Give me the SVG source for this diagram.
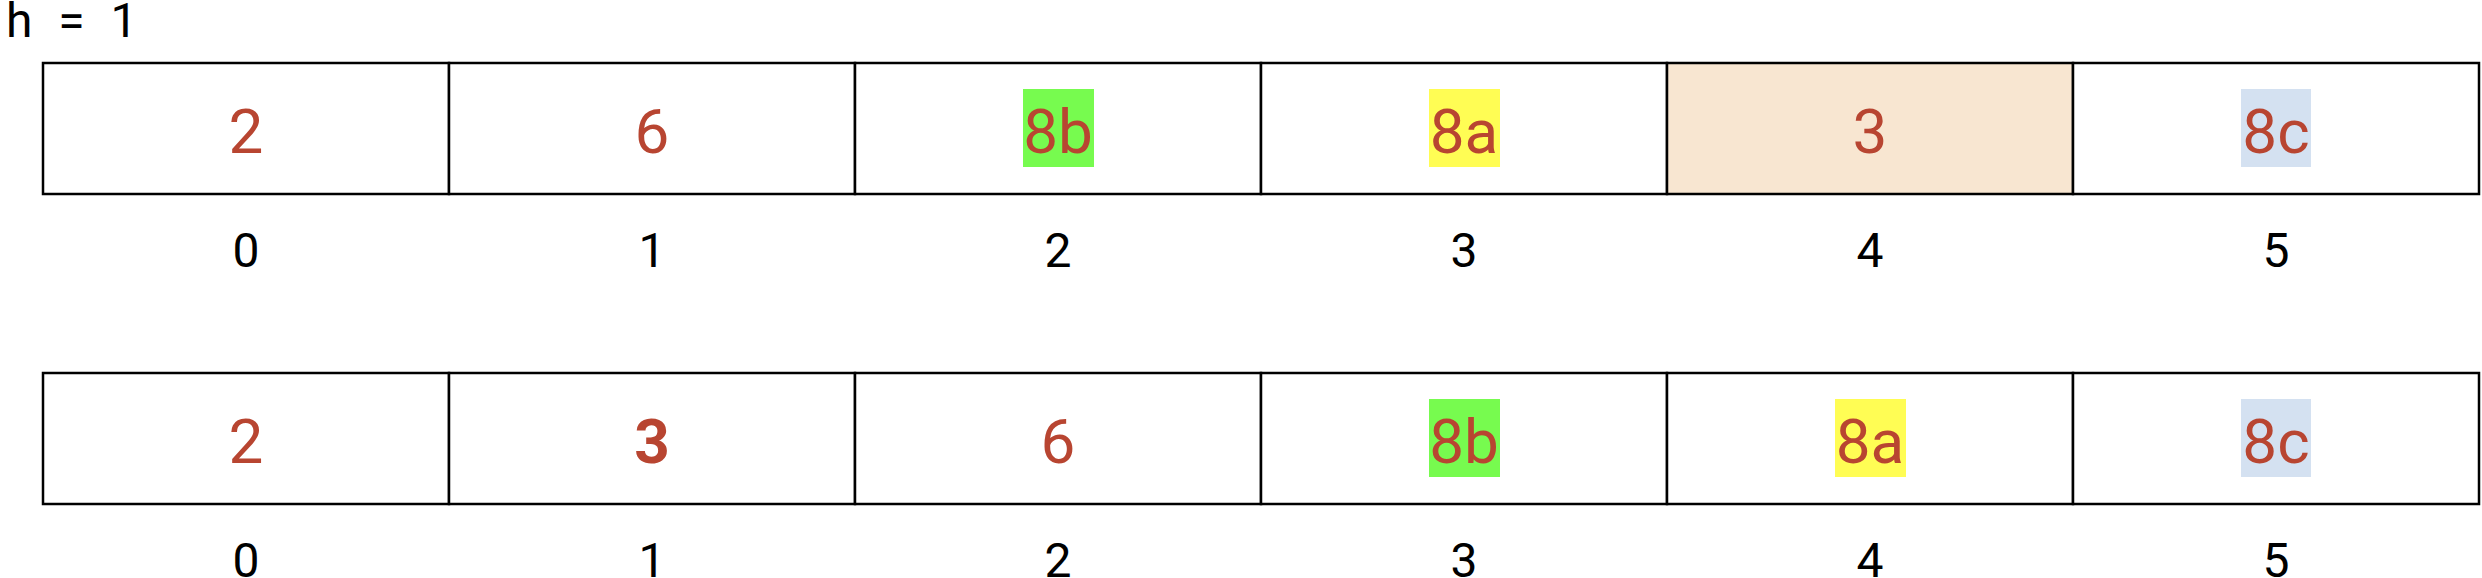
<svg xmlns="http://www.w3.org/2000/svg" width="2482" height="578" viewBox="0 0 2482 578">
<style>
.cell{fill:#ffffff;stroke:#000;stroke-width:2.5}
.val{font-family:Roboto,"Liberation Sans",sans-serif;font-size:62px;fill:#b84531;text-anchor:middle}
.idx{font-family:Roboto,"Liberation Sans",sans-serif;font-size:48px;fill:#000;text-anchor:middle}
.b{font-weight:bold}
.hg{fill:#77fb4f}.hy{fill:#fffd54}.hb{fill:#d4e1f1}
</style>
<rect width="2482" height="578" fill="#ffffff"/>
<text x="6" y="37" font-family="Roboto,'Liberation Sans',sans-serif" font-size="48" word-spacing="14" fill="#000" xml:space="preserve">h = 1</text>
<g id="row1">
<g id="r1c0"><rect class="cell" x="43" y="63" width="406" height="131"/><text class="val" x="246" y="153">2</text><text class="idx" x="246" y="267">0</text></g>
<g id="r1c1"><rect class="cell" x="449" y="63" width="406" height="131"/><text class="val" x="652" y="153">6</text><text class="idx" x="652" y="267">1</text></g>
<g id="r1c2"><rect class="cell" x="855" y="63" width="406" height="131"/><rect class="hg" x="1023" y="89" width="71" height="78"/><text class="val" x="1058" y="153">8b</text><text class="idx" x="1058" y="267">2</text></g>
<g id="r1c3"><rect class="cell" x="1261" y="63" width="406" height="131"/><rect class="hy" x="1429" y="89" width="71" height="78"/><text class="val" x="1464" y="153">8a</text><text class="idx" x="1464" y="267">3</text></g>
<g id="r1c4"><rect class="cell" x="1667" y="63" width="406" height="131" style="fill:#f8e6d1"/><text class="val" x="1870" y="153">3</text><text class="idx" x="1870" y="267">4</text></g>
<g id="r1c5"><rect class="cell" x="2073" y="63" width="406" height="131"/><rect class="hb" x="2241" y="89" width="70" height="78"/><text class="val" x="2276" y="153">8c</text><text class="idx" x="2276" y="267">5</text></g>
</g>
<g id="row2">
<g id="r2c0"><rect class="cell" x="43" y="373" width="406" height="131"/><text class="val" x="246" y="463">2</text><text class="idx" x="246" y="577">0</text></g>
<g id="r2c1"><rect class="cell" x="449" y="373" width="406" height="131"/><text class="val b" x="652" y="463">3</text><text class="idx" x="652" y="577">1</text></g>
<g id="r2c2"><rect class="cell" x="855" y="373" width="406" height="131"/><text class="val" x="1058" y="463">6</text><text class="idx" x="1058" y="577">2</text></g>
<g id="r2c3"><rect class="cell" x="1261" y="373" width="406" height="131"/><rect class="hg" x="1429" y="399" width="71" height="78"/><text class="val" x="1464" y="463">8b</text><text class="idx" x="1464" y="577">3</text></g>
<g id="r2c4"><rect class="cell" x="1667" y="373" width="406" height="131"/><rect class="hy" x="1835" y="399" width="71" height="78"/><text class="val" x="1870" y="463">8a</text><text class="idx" x="1870" y="577">4</text></g>
<g id="r2c5"><rect class="cell" x="2073" y="373" width="406" height="131"/><rect class="hb" x="2241" y="399" width="70" height="78"/><text class="val" x="2276" y="463">8c</text><text class="idx" x="2276" y="577">5</text></g>
</g>
<g id="connectors"/>
</svg>
